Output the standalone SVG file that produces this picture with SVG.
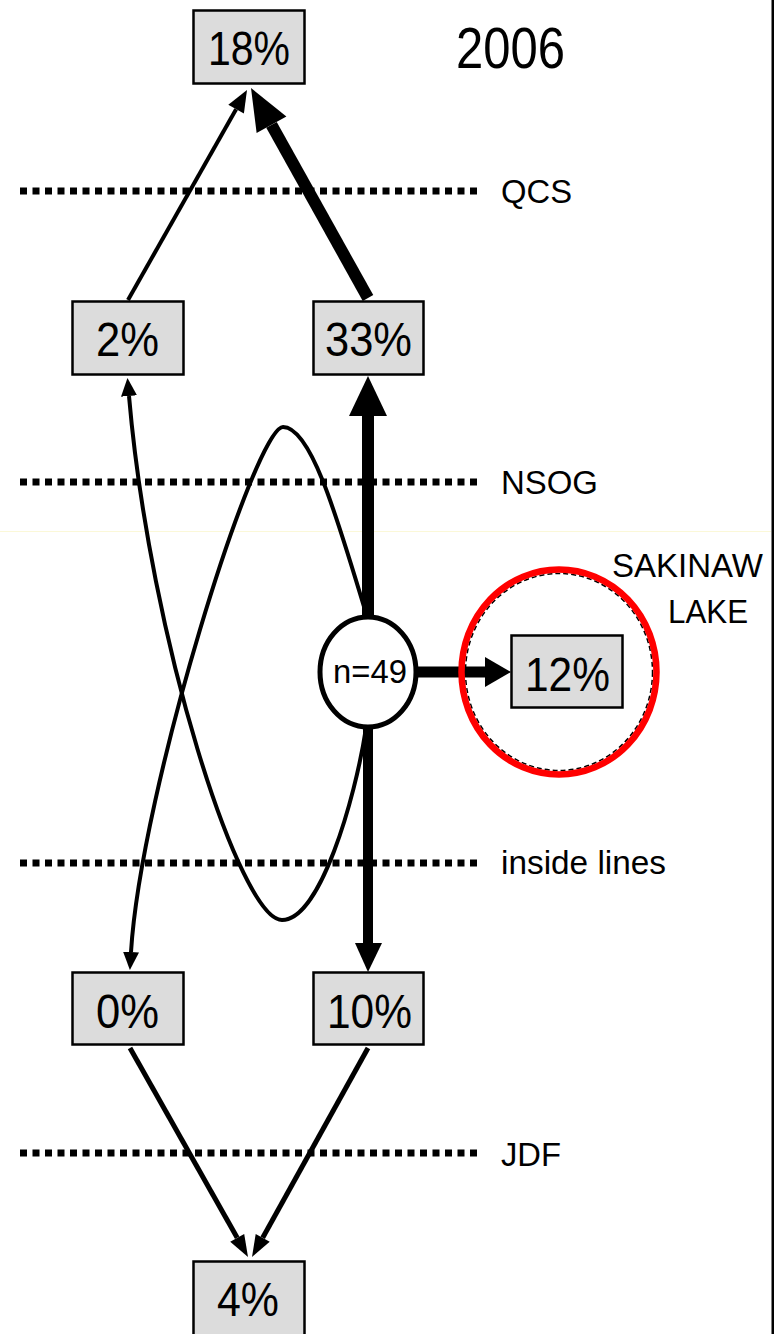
<svg xmlns="http://www.w3.org/2000/svg" width="774" height="1334" viewBox="0 0 774 1334">
<style>
.box{fill:#dcdcdc;stroke:#000;stroke-width:2.5}
.t{font-family:"Liberation Sans",Arial,sans-serif;fill:#000}
.big{font-size:49px}
.lab{font-size:33px}
.dot{stroke:#000;stroke-width:7;stroke-dasharray:7 5.5;fill:none}
.c{fill:none;stroke:#000}
</style>
<defs>
<marker id="ah" markerUnits="userSpaceOnUse" viewBox="0 0 18 16" refX="0" refY="8" markerWidth="18" markerHeight="16" orient="auto-start-reverse">
<path d="M0,0 L18,8 L0,16 z" fill="#000"/>
</marker>
</defs>
<rect x="0" y="0" width="774" height="1334" fill="#fff"/>
<line x1="0" y1="531.5" x2="771" y2="531.5" stroke="#fbf8d8" stroke-width="1"/>
<rect x="771.5" y="0" width="2.5" height="1334" fill="#000"/>

<g id="zones">
<line class="dot" x1="20" y1="191" x2="479" y2="191"/>
<line class="dot" x1="20" y1="482" x2="479" y2="482"/>
<line class="dot" x1="20" y1="863" x2="479" y2="863"/>
<line class="dot" x1="20" y1="1153" x2="479" y2="1153"/>
<text class="t lab" x="501" y="203" textLength="71" lengthAdjust="spacingAndGlyphs">QCS</text>
<text class="t lab" x="501" y="494" textLength="97" lengthAdjust="spacingAndGlyphs">NSOG</text>
<text class="t lab" x="501" y="874" textLength="165" lengthAdjust="spacingAndGlyphs">inside lines</text>
<text class="t lab" x="501" y="1166" textLength="60" lengthAdjust="spacingAndGlyphs">JDF</text>
<text class="t" font-size="57" x="456" y="68" textLength="109" lengthAdjust="spacingAndGlyphs">2006</text>
</g>

<g id="connectors">
<line class="c" stroke-width="4" x1="128" y1="300" x2="236.1" y2="109.2"/>
<polygon points="247,90 243.9,113.6 228.3,104.8"/>
<line class="c" stroke-width="12" x1="368" y1="298" x2="271.5" y2="124.8"/>
<polygon points="251,88 286.4,116.5 256.6,133.1"/>
<line class="c" stroke-width="12" x1="368" y1="620" x2="368" y2="414"/>
<polygon points="349,416 387,416 368,376"/>
<line class="c" stroke-width="10" x1="368" y1="725" x2="368" y2="945"/>
<polygon points="355,943 382,943 368,972"/>
<line class="c" stroke-width="11" x1="415" y1="672" x2="487" y2="672"/>
<polygon points="485,657 485,687 511,672"/>
<path class="c" stroke-width="4" marker-end="url(#ah)" d="M365,610 C335,510 310,427 283,427 C255,427 141,790 131,952"/>
<path class="c" stroke-width="4" marker-start="url(#ah)" d="M129,396 C150,640 240,920 282,920 C320,920 355,800 366,728"/>
<line class="c" stroke-width="5" x1="130" y1="1048" x2="237.2" y2="1237.8"/>
<polygon points="248,1257 244.2,1233.9 230.2,1241.7"/>
<line class="c" stroke-width="5" x1="368" y1="1048" x2="262.7" y2="1237.8"/>
<polygon points="252,1257 269.7,1241.7 255.7,1233.9"/>
</g>

<g id="n49">
<ellipse cx="368" cy="672" rx="48" ry="55" fill="#fff" stroke="#000" stroke-width="5"/>
<text class="t" font-size="33" x="333" y="683" textLength="74" lengthAdjust="spacingAndGlyphs">n=49</text>
</g>

<g id="sakinaw">
<ellipse cx="559" cy="672" rx="93.5" ry="98.5" fill="none" stroke="#000" stroke-width="1.5" stroke-dasharray="5 3"/>
<ellipse cx="559" cy="672" rx="97.5" ry="102.5" fill="none" stroke="#f00" stroke-width="6.5"/>
<text class="t lab" x="612" y="577" textLength="151" lengthAdjust="spacingAndGlyphs">SAKINAW</text>
<text class="t lab" x="668" y="623" textLength="80" lengthAdjust="spacingAndGlyphs">LAKE</text>
</g>

<g id="b18">
<rect class="box" x="193.5" y="10.5" width="111" height="73"/>
<text class="t big" x="208" y="65" textLength="82" lengthAdjust="spacingAndGlyphs">18%</text>
</g>
<g id="b2">
<rect class="box" x="72.5" y="301.5" width="111" height="73"/>
<text class="t big" x="96" y="356" textLength="63" lengthAdjust="spacingAndGlyphs">2%</text>
</g>
<g id="b33">
<rect class="box" x="313.5" y="301.5" width="110" height="73"/>
<text class="t big" x="325" y="356" textLength="87" lengthAdjust="spacingAndGlyphs">33%</text>
</g>
<g id="b12">
<rect class="box" x="511.5" y="635.5" width="111" height="72"/>
<text class="t big" x="525" y="691" textLength="85" lengthAdjust="spacingAndGlyphs">12%</text>
</g>
<g id="b0">
<rect class="box" x="72.5" y="972.5" width="111" height="72"/>
<text class="t big" x="96" y="1028" textLength="63" lengthAdjust="spacingAndGlyphs">0%</text>
</g>
<g id="b10">
<rect class="box" x="313.5" y="972.5" width="110" height="72"/>
<text class="t big" x="327" y="1028" textLength="85" lengthAdjust="spacingAndGlyphs">10%</text>
</g>
<g id="b4">
<rect class="box" x="193.5" y="1261.5" width="111" height="80"/>
<text class="t big" x="217" y="1316" textLength="62" lengthAdjust="spacingAndGlyphs">4%</text>
</g>
</svg>
